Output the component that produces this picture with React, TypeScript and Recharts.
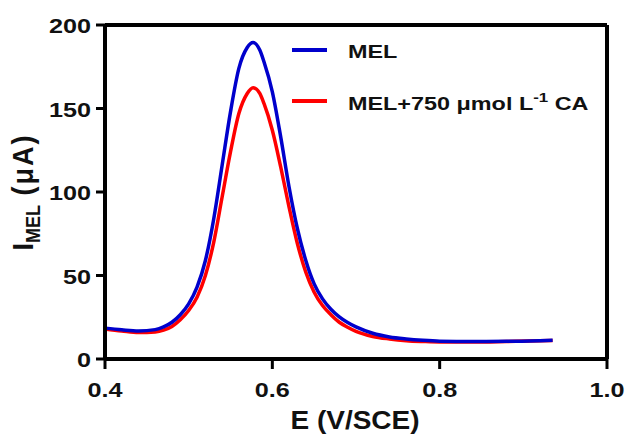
import { LineChart, Line, XAxis, YAxis, ReferenceLine } from "recharts";

// potential (V vs SCE)
const potentials = [
  0.4, 0.42, 0.44, 0.46, 0.47, 0.48, 0.49, 0.5, 0.51, 0.52, 0.53, 0.54, 0.55,
  0.56, 0.57, 0.577, 0.585, 0.59, 0.6, 0.61, 0.62, 0.63, 0.64, 0.65, 0.66, 0.67,
  0.68, 0.69, 0.7, 0.72, 0.74, 0.76, 0.78, 0.8, 0.84, 0.88, 0.92, 0.935,
];

// current (µA), MEL alone
const melCurrent = [
  18.5, 17.5, 16.8, 17.6, 19.2, 22, 26.5, 33, 43, 59, 84, 116, 148, 174, 186.5,
  189.5, 185, 178, 160, 133, 103, 78, 59, 45, 36, 29.8, 25.2, 21.8, 19.2, 15.4,
  13.2, 12, 11.2, 10.7, 10.5, 10.6, 11, 11.2,
];

// current (µA), MEL + 750 µmol/L CA
const caCurrent = [
  18, 16.8, 15.8, 16.2, 17.3, 19.5, 23.5, 29, 37, 50, 70, 97, 124, 147, 159,
  162.5, 159, 153, 137, 115, 91, 69, 52, 40, 32, 26.5, 22, 19, 16.5, 13.5, 12,
  11, 10.5, 10.2, 10.2, 10.5, 10.9, 11.1,
];

const xTicks = [0.4, 0.6, 0.8, 1.0];
const yTicks = [0, 50, 100, 150, 200];
const seriesColors = ["#0000CC", "#FF0000"];

const data = potentials.map((e, i) => ({
  e,
  mel: melCurrent[i],
  ca: caCurrent[i],
}));

const FONT = '"Liberation Sans", Arial, sans-serif';

function XTick({ x, y, payload }: any) {
  return (
    <g transform={`translate(${x},${y + 26}) scale(1.2,1)`}>
      <text textAnchor="middle" fontFamily={FONT} fontWeight="bold" fontSize={21} fill="#111">
        {Number(payload.value).toFixed(1)}
      </text>
    </g>
  );
}

function YTick({ x, y, payload }: any) {
  return (
    <g transform={`translate(${x - 3},${y + 8}) scale(1.2,1)`}>
      <text textAnchor="end" fontFamily={FONT} fontWeight="bold" fontSize={21} fill="#111">
        {payload.value}
      </text>
    </g>
  );
}

function YTitle() {
  return (
    <g transform="translate(33,192) scale(1.12,1) rotate(-90)">
      <text textAnchor="middle" fontFamily={FONT} fontWeight="bold" fontSize={27} fill="#111">
        I
        <tspan fontSize={18} dy={6}>MEL</tspan>
        <tspan dy={-6} letterSpacing={2}> (μA)</tspan>
      </text>
    </g>
  );
}

function XTitle() {
  return (
    <g transform="translate(355,429) scale(1.12,1)">
      <text textAnchor="middle" fontFamily={FONT} fontWeight="bold" fontSize={25} fill="#111">
        E (V/SCE)
      </text>
    </g>
  );
}

function LegendBox() {
  return (
    <svg
      width={626}
      height={436}
      style={{ position: "absolute", left: 0, top: 0, pointerEvents: "none" }}
    >
      <line x1={292} x2={327} y1={50} y2={50} stroke={seriesColors[0]} strokeWidth={4} />
      <g transform="translate(348,58) scale(1.3,1)">
        <text fontFamily={FONT} fontWeight="bold" fontSize={18} fill="#111">
          MEL
        </text>
      </g>
      <line x1={292} x2={327} y1={101} y2={101} stroke={seriesColors[1]} strokeWidth={4} />
      <g transform="translate(348,110) scale(1.3,1)">
        <text fontFamily={FONT} fontWeight="bold" fontSize={18} fill="#111">
          MEL+750 μmol L
          <tspan fontSize={13} dy={-8}>-1</tspan>
          <tspan dy={8}> CA</tspan>
        </text>
      </g>
    </svg>
  );
}

export default function App() {
  return (
    <div style={{ position: "absolute", left: 0, top: 0, width: 626, height: 436, background: "#fff" }}>
      <LineChart
        width={626}
        height={436}
        data={data}
        margin={{ top: 25, right: 19, left: 0, bottom: 0 }}
      >
        <XAxis
          dataKey="e"
          type="number"
          domain={[0.4, 1.0]}
          ticks={xTicks}
          height={77}
          tickSize={10}
          axisLine={{ stroke: "#000", strokeWidth: 4 }}
          tickLine={{ stroke: "#000", strokeWidth: 3 }}
          tick={<XTick />}
          label={<XTitle />}
        />
        <YAxis
          type="number"
          domain={[0, 200]}
          ticks={yTicks}
          width={105}
          tickSize={9}
          axisLine={{ stroke: "#000", strokeWidth: 4 }}
          tickLine={{ stroke: "#000", strokeWidth: 3 }}
          tick={<YTick />}
          label={<YTitle />}
        />
        <ReferenceLine y={200} stroke="#000" strokeWidth={4} />
        <ReferenceLine x={1.0} stroke="#000" strokeWidth={4} />
        <Line
          type="monotone"
          dataKey="ca"
          stroke={seriesColors[1]}
          strokeWidth={3.5}
          dot={false}
          isAnimationActive={false}
        />
        <Line
          type="monotone"
          dataKey="mel"
          stroke={seriesColors[0]}
          strokeWidth={3.5}
          dot={false}
          isAnimationActive={false}
        />
      </LineChart>
      <LegendBox />
    </div>
  );
}
